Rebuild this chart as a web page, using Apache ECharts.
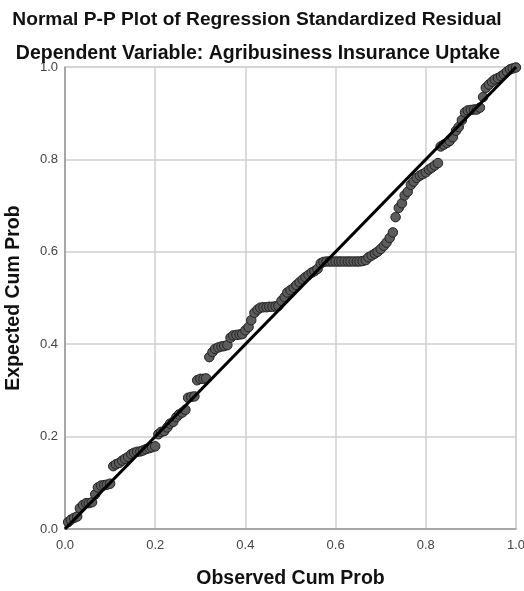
<!DOCTYPE html>
<html>
<head>
<meta charset="utf-8">
<script src="https://cdn.jsdelivr.net/npm/echarts@6/dist/echarts.min.js"></script>
<style>html,body{margin:0;padding:0;background:#fff;}#c{width:524px;height:591px;}</style>
</head>
<body>
<div id="c"></div>
<script>
var titleText = "Normal P-P Plot of Regression Standardized Residual";
var subtitleText = "Dependent Variable: Agribusiness Insurance Uptake";
var xName = "Observed Cum Prob";
var yName = "Expected Cum Prob";
var tickLabels = ["0.0","0.2","0.4","0.6","0.8","1.0"];

var observed = [
0.007,0.013,0.020,0.027,0.033,0.040,0.047,0.053,0.060,0.067,
0.073,0.080,0.087,0.093,0.100,0.107,0.113,0.120,0.127,0.133,
0.140,0.147,0.153,0.160,0.167,0.173,0.180,0.187,0.193,0.200,
0.207,0.213,0.220,0.227,0.233,0.240,0.247,0.253,0.260,0.267,
0.273,0.280,0.287,0.293,0.300,0.307,0.313,0.320,0.327,0.333,
0.340,0.347,0.353,0.360,0.367,0.373,0.380,0.387,0.393,0.400,
0.407,0.413,0.420,0.427,0.433,0.440,0.447,0.453,0.460,0.467,
0.473,0.480,0.487,0.493,0.500,0.507,0.513,0.520,0.527,0.533,
0.540,0.547,0.553,0.560,0.567,0.573,0.580,0.587,0.593,0.600,
0.607,0.613,0.620,0.627,0.633,0.640,0.647,0.653,0.660,0.667,
0.673,0.680,0.687,0.693,0.700,0.707,0.713,0.720,0.727,0.733,
0.740,0.747,0.753,0.760,0.767,0.773,0.780,0.787,0.793,0.800,
0.807,0.813,0.820,0.827,0.833,0.840,0.847,0.853,0.860,0.867,
0.873,0.880,0.887,0.893,0.900,0.907,0.913,0.920,0.927,0.933,
0.940,0.947,0.953,0.960,0.967,0.973,0.980,0.987,0.993,1.000
];
var expected = [
0.015,0.020,0.024,0.027,0.045,0.052,0.056,0.056,0.058,0.075,
0.090,0.094,0.095,0.096,0.098,0.136,0.140,0.143,0.148,0.152,
0.156,0.162,0.165,0.167,0.168,0.170,0.173,0.175,0.177,0.179,
0.205,0.210,0.212,0.220,0.228,0.232,0.242,0.248,0.252,0.258,
0.284,0.286,0.287,0.322,0.325,0.325,0.326,0.372,0.383,0.390,
0.393,0.395,0.396,0.398,0.414,0.419,0.420,0.421,0.422,0.430,
0.437,0.452,0.468,0.475,0.479,0.480,0.480,0.481,0.481,0.482,
0.483,0.494,0.502,0.512,0.517,0.522,0.528,0.534,0.540,0.545,
0.550,0.555,0.558,0.563,0.575,0.578,0.579,0.579,0.579,0.579,
0.579,0.579,0.579,0.579,0.579,0.579,0.579,0.579,0.580,0.582,
0.588,0.592,0.596,0.600,0.606,0.613,0.620,0.630,0.642,0.675,
0.695,0.705,0.722,0.730,0.745,0.752,0.760,0.765,0.768,0.772,
0.778,0.782,0.787,0.792,0.828,0.832,0.836,0.840,0.848,0.862,
0.870,0.885,0.902,0.906,0.907,0.908,0.908,0.912,0.935,0.955,
0.962,0.968,0.973,0.976,0.980,0.984,0.990,0.995,0.997,0.999
];
var refLine = [[0,0],[1,1]];

var points = observed.map(function(x,i){return [x, expected[i]];});
var chart = echarts.init(document.getElementById('c'));
var font = "Liberation Sans, Arial, sans-serif";
chart.setOption({
  animation:false,
  backgroundColor:'#fff',
  title:[
    {text:titleText, left:252, top:5, textAlign:'center',
     textStyle:{fontFamily:font,fontSize:19.2,fontWeight:'bold',color:'#111'}},
    {text:subtitleText, left:253, top:39, textAlign:'center',
     textStyle:{fontFamily:font,fontSize:19.5,fontWeight:'bold',color:'#111'}}
  ],
  grid:{left:65, right:8, top:67, bottom:62, show:true, borderColor:'#c8c8c8', borderWidth:1,
        outerBoundsMode:'none', containLabel:false},
  xAxis:{type:'value',min:0,max:1,interval:0.2,
    name:xName,nameLocation:'middle',nameGap:40,
    nameTextStyle:{fontFamily:font,fontSize:19.5,fontWeight:'bold',color:'#111'},
    axisLine:{show:true,lineStyle:{color:'#999',width:1.5}},
    axisTick:{show:false},
    splitLine:{show:true,lineStyle:{color:'#cfcfcf',width:1.5}},
    axisLabel:{fontFamily:font,fontSize:13,color:'#444',margin:10,
      formatter:function(v){return tickLabels[Math.round(v*5)];}}
  },
  yAxis:{type:'value',min:0,max:1,interval:0.2,
    name:yName,nameLocation:'middle',nameGap:41,
    nameTextStyle:{fontFamily:font,fontSize:19.5,fontWeight:'bold',color:'#111'},
    axisLine:{show:true,lineStyle:{color:'#999',width:1.5}},
    axisTick:{show:false},
    splitLine:{show:true,lineStyle:{color:'#cfcfcf',width:1.5}},
    axisLabel:{fontFamily:font,fontSize:13,color:'#444',margin:7,
      formatter:function(v){return tickLabels[Math.round(v*5)];}}
  },
  series:[
    {type:'scatter',data:points,symbolSize:9.5,clip:false,
     itemStyle:{color:'#5c5c5c',borderColor:'#222',borderWidth:1,opacity:1}},
    {type:'line',data:refLine,symbol:'none',clip:false,
     lineStyle:{color:'#000',width:3.2},z:3}
  ]
});
</script>
</body>
</html>
